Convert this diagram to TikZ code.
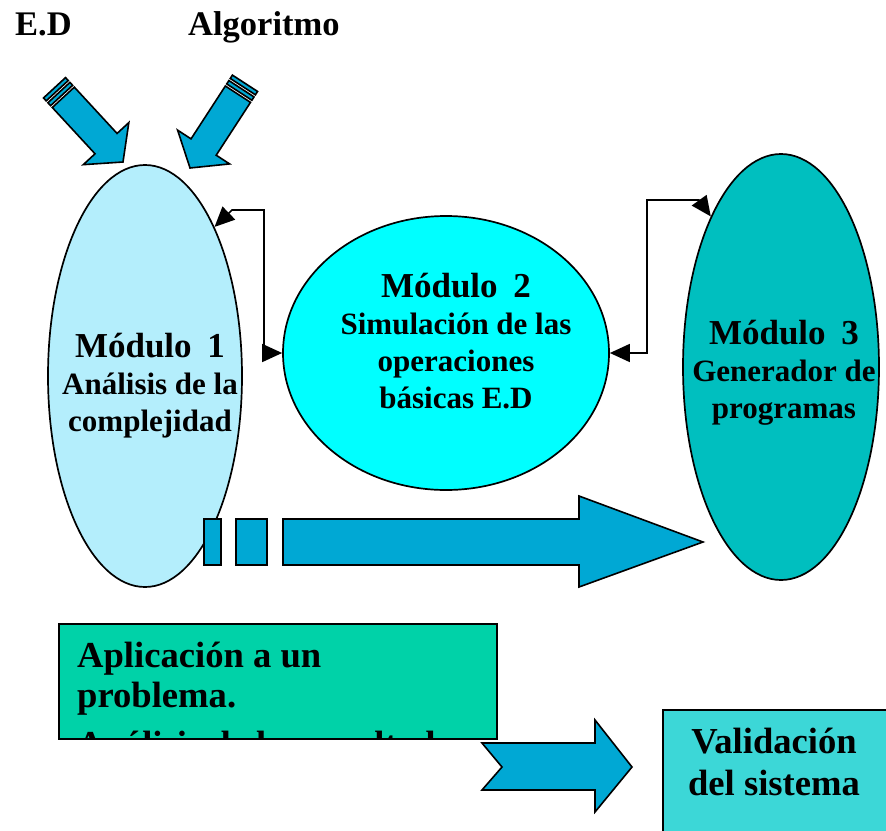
\documentclass[tikz,border=0pt]{standalone}
\usepackage{fontspec}
\setmainfont{Liberation Serif}
\usepackage{tikz}
\usetikzlibrary{shapes.geometric, arrows.meta}
\definecolor{modA}{HTML}{B4EEFC}
\definecolor{modB}{HTML}{00FFFF}
\definecolor{modC}{HTML}{00BFBF}
\definecolor{flecha}{HTML}{00A8D4}
\definecolor{verde}{HTML}{00D2A8}
\definecolor{valida}{HTML}{3CD7D7}
\tikzstyle{modulo}=[ellipse, draw, line width=1.7pt, inner sep=0pt]
\tikzstyle{bloque}=[draw, line width=1.6pt, fill=flecha, line join=miter]
\tikzstyle{enlace}=[line width=1.6pt, {Triangle[length=20pt,width=18pt]}-{Triangle[length=20pt,width=18pt]}]
\tikzstyle{titulo}=[font=\fontsize{34.5}{40}\selectfont\bfseries, inner sep=0pt]
\tikzstyle{texto}=[font=\fontsize{31}{37}\selectfont\bfseries, align=center, inner sep=0pt]
\tikzstyle{caja}=[draw, line width=1.7pt, anchor=north west]
\tikzstyle{cajatexto}=[font=\fontsize{36.6}{40}\selectfont\bfseries, inner sep=0pt]
% flecha con dos rayas en la cola, punta en el origen
\newcommand{\flechaRayas}{%
  \draw[bloque] (0,0) -- (-25,31) -- (-25,15) -- (-88,15) -- (-88,-15) -- (-25,-15) -- (-25,-31) -- cycle;
  \draw[bloque] (-90.5,15) rectangle (-94.5,-15);
  \draw[bloque] (-97,15) rectangle (-101,-15);
}

\begin{document}
\begin{tikzpicture}[x=1pt, y=-1pt]
	\clip (0,0) rectangle (886,830);
	\node[titulo, anchor=base west] (ed) at (15,35) {E.D};
	\node[titulo, anchor=base west] (algo) at (188,35) {Algoritmo};
	% modulos
	\node[modulo, fill=modA, minimum width=194pt, minimum height=422pt] (m1) at (145,376) {};
	\node[modulo, fill=modB, minimum width=326pt, minimum height=274pt] (m2) at (446,353) {};
	\node[modulo, fill=modC, minimum width=196pt, minimum height=426pt] (m3) at (781,367) {};
	\node[texto] (t1) at (150,385.5) {{\fontsize{35}{40}\selectfont Módulo\hspace{0.45em}1}\\Análisis de la\\complejidad};
	\node[texto] (t2) at (456,341) {{\fontsize{35}{40}\selectfont Módulo\hspace{0.45em}2}\\Simulación de las\\operaciones\\básicas E.D};
	\node[texto] (t3) at (784,372.5) {{\fontsize{35}{40}\selectfont Módulo\hspace{0.45em}3}\\Generador de\\programas};
	% enlaces
	\coordinate (k1) at (264,210);
	\coordinate (k2) at (647,200);
	\draw[enlace] (m1.65) -- (232,210) -- (k1) |- (m2.west);
	\draw[enlace] (m2.east) -| (k2) -- (699,200) -- (m3.115);
	% flechas de entrada
	\begin{scope}[shift={(123,162)}, rotate=-47.3]
		\flechaRayas
	\end{scope}
	\begin{scope}[shift={(190,168)}, rotate=-123]
		\flechaRayas
	\end{scope}
	% flecha grande
	\draw[bloque] (204,519) rectangle (221,565);
	\draw[bloque] (236,519) rectangle (267,565);
	\draw[bloque] (283,519) -- (579,519) -- (579,496) -- (703,542) -- (579,587) -- (579,565) -- (283,565) -- cycle;
	% cajas de abajo
	\node[caja, fill=verde, minimum width=438pt, minimum height=115pt] (aplic) at (58,623) {};
	\begin{scope}
		\clip (59,624) rectangle (495,737);
		\node[cajatexto, anchor=north west, align=left] (t4) at (77,641.5) {Aplicación a un\\problema.\\[9pt]Análisis de los resultados};
	\end{scope}
	\draw[bloque] (482,743) -- (595,743) -- (595,720) -- (632,767) -- (595,812) -- (595,790) -- (482,790) -- (502,767) -- cycle;
	\node[caja, fill=valida, minimum width=260pt, minimum height=150pt] (valid) at (662,709) {};
	\node[cajatexto, anchor=north, align=center, font=\fontsize{36.6}{42}\selectfont\bfseries] (t5) at (774,727.5) {Validación\\del sistema};
\end{tikzpicture}
\end{document}
